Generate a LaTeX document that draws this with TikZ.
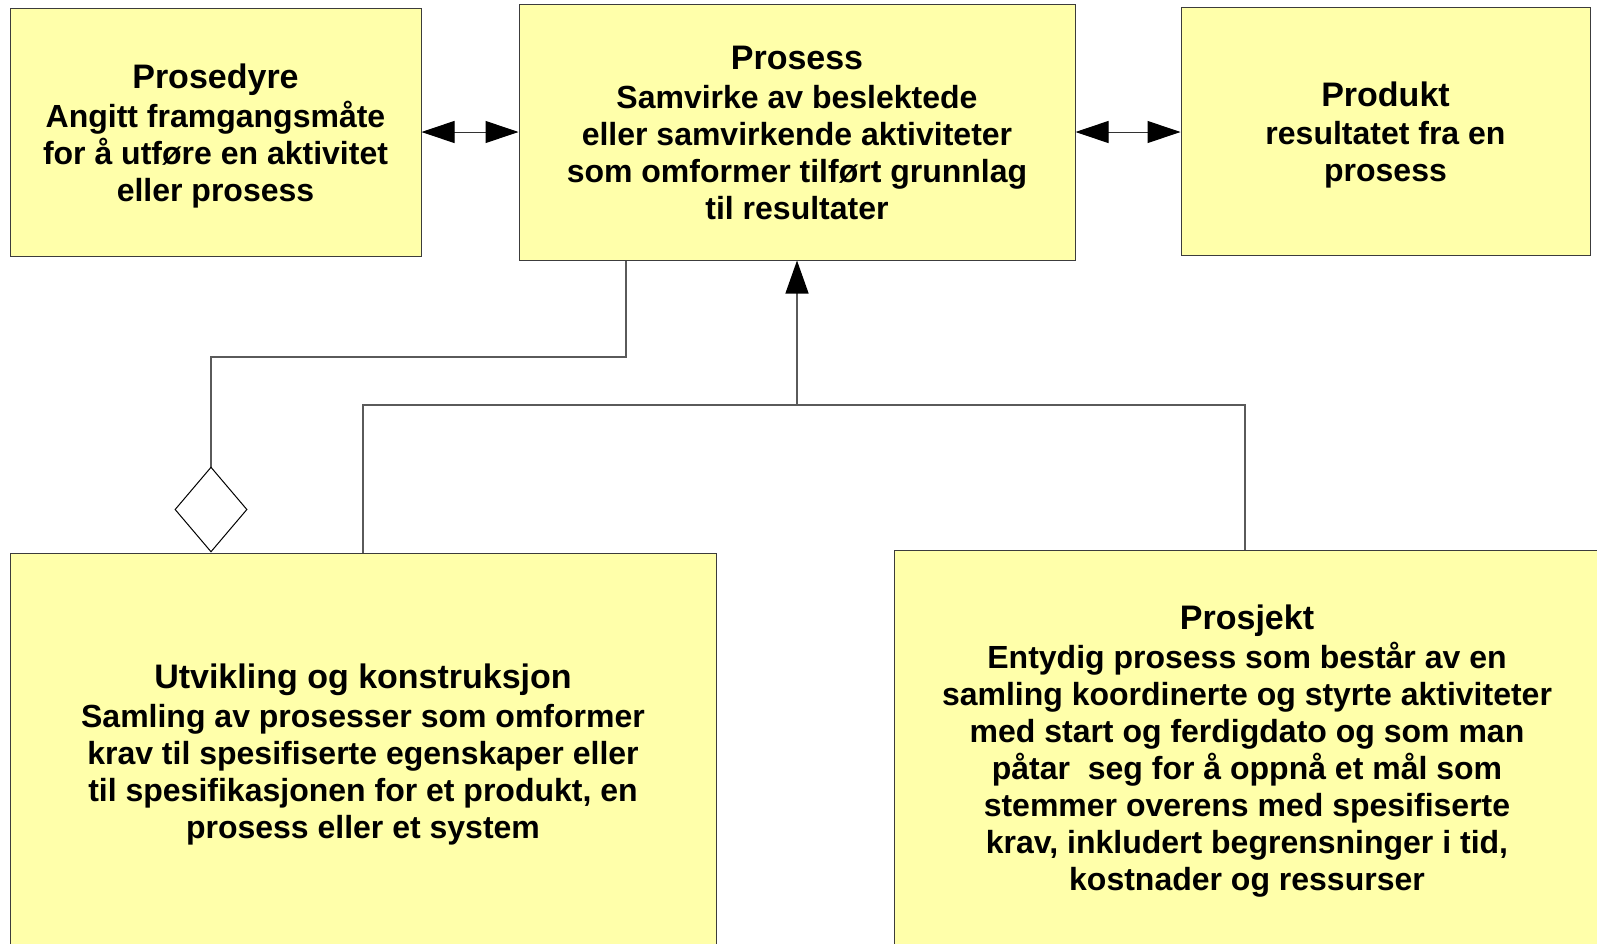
\documentclass[tikz,border=0pt]{standalone}
\usepackage{fontspec}
\setmainfont{Liberation Sans}
\usetikzlibrary{arrows.meta}
\definecolor{boxfill}{HTML}{FFFFAA}
\definecolor{boxline}{HTML}{3C3C3C}
\definecolor{wirecol}{HTML}{5A5A5A}
\newcommand{\ttl}[1]{{\fontsize{34}{38}\selectfont #1}\\[1.5pt]}
\begin{document}
\begin{tikzpicture}[x=1pt,y=-1pt,
  concept/.style={draw=boxline, line width=1pt, fill=boxfill, rectangle, inner sep=0pt},
  caption/.style={align=center, inner sep=0pt, font=\bfseries\fontsize{32}{37}\selectfont},
  wire/.style={draw=wirecol, line width=1.3pt},
  double link/.style={draw=black!80, line width=1pt, {Triangle[length=33pt, width=22pt, color=black]}-{Triangle[length=33pt, width=22pt, color=black]}}
]
\clip (0,0) rectangle (1597,943);
\fill[white] (0,0) rectangle (1597,943);

% concept boxes
\node[concept, minimum width=411pt, minimum height=248pt] (prosedyre) at (215.5,132) {};
\node[concept, minimum width=556pt, minimum height=256pt] (prosess) at (797,132) {};
\node[concept, minimum width=409pt, minimum height=248pt] (produkt) at (1385.5,131) {};
\node[concept, minimum width=706pt, minimum height=397pt] (utvikling) at (363,751.5) {};
\node[concept, minimum width=706pt, minimum height=396pt] (prosjekt) at (1247,748) {};

% their texts
\node[caption] (prosedyre text) at ([yshift=-4pt]prosedyre.center)
  {\ttl{Prosedyre}Angitt framgangsmåte\\for å utføre en aktivitet\\eller prosess};
\node[caption] (prosess text) at ([yshift=-1pt]prosess.center)
  {\ttl{Prosess}Samvirke av beslektede\\eller samvirkende aktiviteter\\som omformer tilført grunnlag\\til resultater};
\node[caption] (produkt text) at ([yshift=-4pt]produkt.center)
  {\ttl{Produkt}resultatet fra en\\prosess};
\node[caption] (utvikling text) at ([yshift=-3pt]utvikling.center)
  {\ttl{Utvikling og konstruksjon}Samling av prosesser som omformer\\krav til spesifiserte egenskaper eller\\til spesifikasjonen for et produkt, en\\prosess eller et system};
\node[caption] (prosjekt text) at ([yshift=-3pt]prosjekt.center)
  {\ttl{Prosjekt}Entydig prosess som består av en\\samling koordinerte og styrte aktiviteter\\med start og ferdigdato og som man\\påtar\ \ seg for å oppnå et mål som\\stemmer overens med spesifiserte\\krav, inkludert begrensninger i tid,\\kostnader og ressurser};

% associations between the top row
\draw[double link] (prosedyre.east) -- (prosess.west);
\draw[double link] (prosess.east) -- (produkt.west |- prosess.east);

% specialisation: development and project are processes
\coordinate (join) at (797,405);
\draw[wire, -{Triangle[length=33pt, width=23pt, color=black]}]
  (utvikling.north) |- (join) -- (prosess.south);
\draw[wire] (prosjekt.north -| 1245,0) |- (join);

% aggregation: development is composed of processes
\coordinate (aggx) at (626,0);
\coordinate (bend) at (211,357);
\draw[wire, -{Diamond[open, fill=white, length=86pt, width=73pt, line width=1pt, color=black]}]
  (prosess.south -| aggx) |- (bend) -- (utvikling.north -| bend);
\end{tikzpicture}
\end{document}
